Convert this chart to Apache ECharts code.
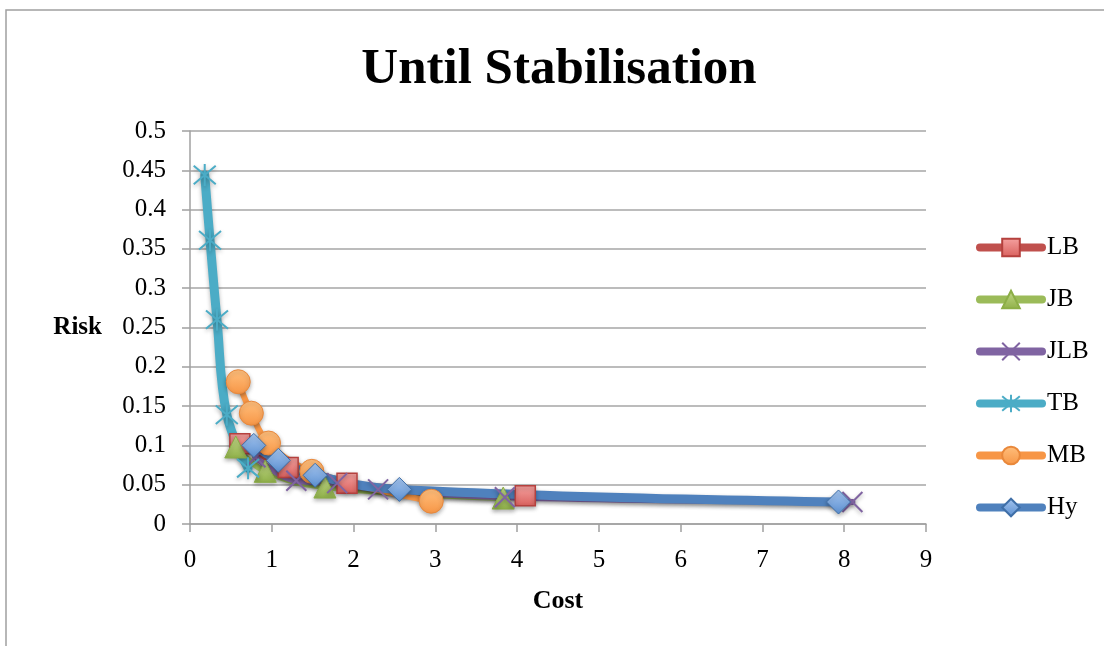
<!DOCTYPE html>
<html>
<head>
<meta charset="utf-8">
<script src="https://cdn.jsdelivr.net/npm/echarts@6/dist/echarts.min.js"></script>
<style>html,body{margin:0;padding:0;background:#fff}#c{width:1104px;height:646px}</style>
</head>
<body>
<div id="c"></div>
<script>
const titleText = "Until Stabilisation";
const seriesNames = ["LB", "JB", "JLB", "TB", "MB", "Hy"];
const lbX = [0.61, 1.2, 1.92, 4.1];
const lbY = [0.102, 0.072, 0.052, 0.036];
const jbX = [0.56, 0.92, 1.65, 3.83];
const jbY = [0.098, 0.067, 0.047, 0.033];
const jlbX = [0.8, 1.3, 1.8, 2.3, 3.85, 8.1];
const jlbY = [0.085, 0.055, 0.052, 0.044, 0.034, 0.028];
const tbX = [0.18, 0.245, 0.33, 0.45, 0.71];
const tbY = [0.444, 0.361, 0.26, 0.139, 0.071];
const mbX = [0.59, 0.75, 0.96, 1.49, 2.95];
const mbY = [0.181, 0.141, 0.103, 0.067, 0.029];
const hyX = [0.78, 1.08, 1.53, 2.56, 7.93];
const hyY = [0.1, 0.081, 0.062, 0.044, 0.028];

const FONT = "Liberation Serif";
function pts(xs, ys) { return xs.map((x, i) => [x, ys[i]]); }
function grad(c1, c2) {
  return new echarts.graphic.LinearGradient(0, 0, 0, 1, [{offset: 0, color: c1}, {offset: 1, color: c2}]);
}
const shadow = {shadowBlur: 4, shadowColor: 'rgba(0,0,0,0.3)', shadowOffsetY: 2};
const X_PATH = 'path://M0,0L10,10M10,0L0,10';
const STAR_PATH = 'path://M0,0L10,10M10,0L0,10M5,-1L5,11';

const defs = [
  {name: seriesNames[0], data: pts(lbX, lbY), color: '#C0504D', symbol: 'rect', size: 20, width: 6,
   item: {color: grad('#F5A3A1', '#D9605D'), borderColor: '#B5413E', borderWidth: 1.5}},
  {name: seriesNames[1], data: pts(jbX, jbY), color: '#9BBB59', symbol: 'triangle', size: 22, width: 6,
   item: {color: grad('#C4DA8A', '#8FB049'), borderColor: '#8CAE47', borderWidth: 1}},
  {name: seriesNames[2], data: pts(jlbX, jlbY), color: '#8064A2', symbol: X_PATH, size: 20, width: 6,
   item: {color: 'rgba(0,0,0,0)', borderColor: '#8064A2', borderWidth: 2}},
  {name: seriesNames[3], data: pts(tbX, tbY), color: '#4BACC6', symbol: STAR_PATH, size: 22, width: 9,
   item: {color: 'rgba(0,0,0,0)', borderColor: '#4BACC6', borderWidth: 2}},
  {name: seriesNames[4], data: pts(mbX, mbY), color: '#F79646', symbol: 'circle', size: 24, width: 6,
   item: {color: grad('#FFC07E', '#F79646'), borderColor: '#E9883B', borderWidth: 1}},
  {name: seriesNames[5], data: pts(hyX, hyY), color: '#4F81BD', symbol: 'diamond', size: 24, width: 9,
   item: {color: grad('#A6C6F0', '#5B8FD0'), borderColor: '#3F6FA8', borderWidth: 1}}
];

const chart = echarts.init(document.getElementById('c'));
chart.setOption({
  animation: false,
  backgroundColor: '#fff',
  graphic: [{
    type: 'rect', silent: true, z: -10,
    shape: {x: 6, y: 10, width: 1200, height: 700},
    style: {fill: 'none', stroke: '#A0A0A0', lineWidth: 1.5}
  }],
  title: {
    text: titleText, left: 554, top: 39, textAlign: 'center',
    textStyle: {fontFamily: FONT, fontWeight: 'bold', fontSize: 51, color: '#000'}
  },
  legend: {
    orient: 'vertical', left: 971, top: 230, itemGap: 27,
    itemWidth: 62, itemHeight: 22,
    data: seriesNames,
    lineStyle: {width: 8, cap: 'round'},
    textStyle: {fontFamily: FONT, fontSize: 25, color: '#000', lineHeight: 25}
  },
  grid: {left: 190, top: 131, right: 178, bottom: 122, containLabel: false},
  xAxis: {
    type: 'value', min: 0, max: 9, interval: 1,
    name: 'Cost', nameLocation: 'middle', nameGap: 64,
    nameTextStyle: {fontFamily: FONT, fontWeight: 'bold', fontSize: 26, color: '#000'},
    axisLine: {show: true, lineStyle: {color: '#A0A0A0', width: 1.5}},
    axisTick: {show: true, length: 8, lineStyle: {color: '#A0A0A0', width: 1.5}},
    axisLabel: {fontFamily: FONT, fontSize: 25, color: '#000', margin: 24},
    splitLine: {show: false}
  },
  yAxis: {
    type: 'value', min: 0, max: 0.5, interval: 0.05,
    name: 'Risk', nameLocation: 'middle', nameRotate: 0, nameGap: 88,
    nameTextStyle: {fontFamily: FONT, fontWeight: 'bold', fontSize: 25, color: '#000'},
    axisLine: {show: true, lineStyle: {color: '#A0A0A0', width: 1.5}},
    axisTick: {show: true, length: 8, lineStyle: {color: '#A0A0A0', width: 1.5}},
    axisLabel: {fontFamily: FONT, fontSize: 25, color: '#000', margin: 24},
    splitLine: {show: true, lineStyle: {color: '#A6A6A6', width: 1.5}}
  },
  series: defs.map(d => ({
    type: 'line', name: d.name, data: d.data, smooth: 0.4,
    symbol: d.symbol, symbolSize: d.size, color: d.color,
    lineStyle: Object.assign({color: d.color, width: d.width, cap: 'round', join: 'round'}, shadow),
    itemStyle: Object.assign({}, d.item, shadow),
    emphasis: {disabled: true}
  }))
});
</script>
</body>
</html>
